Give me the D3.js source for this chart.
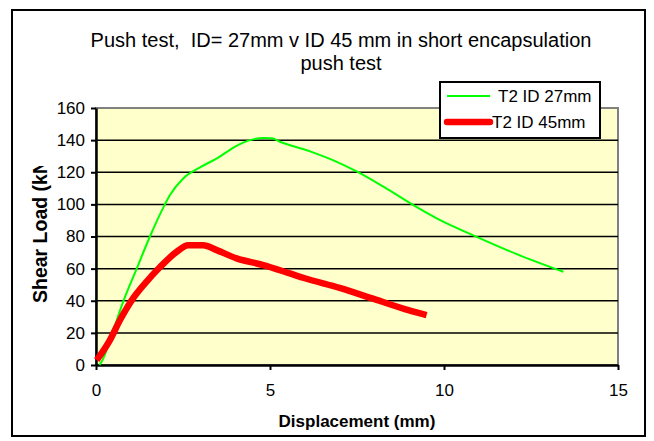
<!DOCTYPE html>
<html>
<head>
<meta charset="utf-8">
<script src="https://cdn.jsdelivr.net/npm/d3@7"></script>
<style>
  body { margin: 0; background: #fff; }
  svg { display: block; font-family: "Liberation Sans", Arial, sans-serif; }
</style>
</head>
<body>
<div id="chart"></div>
<script>
// T2 ID 27mm (green)
const disp27 = [0.1, 0.16, 0.55, 0.74, 1.17, 1.55, 1.98, 2.13, 2.5, 2.99, 3.5, 4.0, 4.43, 4.8, 5.05, 5.29, 6.15, 6.92, 7.49, 8.26, 9.12, 9.79, 10.94, 12.09, 13.43]
const load27 = [0, 2, 25, 37, 60, 80, 100, 106, 116, 123, 129, 136, 140, 141.4, 141.2, 139, 133, 126.5, 120.5, 111, 99.5, 91.3, 79.8, 69, 58]

// T2 ID 45mm (red)
const disp45 = [0.02, 0.4, 0.69, 1.03, 1.41, 1.84, 2.32, 2.65, 3.08, 3.47, 4.04, 4.81, 5.57, 6.0, 7.0, 8.0, 9.0, 9.5]
const load45 = [3, 15.5, 28, 40.4, 50.8, 61, 70.5, 74.5, 74.5, 71.5, 66.4, 62.2, 57, 54, 48, 41, 34, 31]

const seriesNames = ['T2 ID 27mm', 'T2 ID 45mm']
const xTicks = [0, 5, 10, 15]
const yTicks = [0, 20, 40, 60, 80, 100, 120, 140, 160]

const W = 654, H = 441
const plot = { left: 96, right: 618, top: 108, bottom: 365 }

const svg = d3.select('#chart').append('svg')
  .attr('width', W).attr('height', H)

// outer frame
svg.append('rect')
  .attr('x', 12).attr('y', 10).attr('width', 633).attr('height', 426)
  .attr('fill', '#fff').attr('stroke', '#000').attr('stroke-width', 2)

const x = d3.scaleLinear().domain([0, 15]).range([plot.left, plot.right])
const y = d3.scaleLinear().domain([0, 160]).range([plot.bottom, plot.top])

// plot area
svg.append('rect')
  .attr('x', plot.left).attr('y', plot.top)
  .attr('width', plot.right - plot.left).attr('height', plot.bottom - plot.top)
  .attr('fill', '#FFFFCC').attr('stroke', '#808080').attr('stroke-width', 2)

// gridlines
svg.append('g').selectAll('line')
  .data(yTicks.filter(d => d > 0 && d < 160)).enter()
  .append('line')
  .attr('x1', plot.left).attr('x2', plot.right)
  .attr('y1', d => y(d)).attr('y2', d => y(d))
  .attr('stroke', '#000').attr('stroke-width', 1.5)

// axes
const xAxis = d3.axisBottom(x).tickValues(xTicks).tickSize(5).tickSizeOuter(0).tickPadding(14)
const gx = svg.append('g')
  .attr('transform', 'translate(0,' + plot.bottom + ')')
  .call(xAxis)
gx.select('.domain').attr('stroke-width', 2.5)
gx.selectAll('.tick line').attr('stroke-width', 2)
gx.selectAll('text').attr('font-size', 17).attr('fill', '#000')

const yAxis = d3.axisLeft(y).tickValues(yTicks).tickSize(5).tickSizeOuter(0).tickPadding(6)
const gy = svg.append('g')
  .attr('transform', 'translate(' + plot.left + ',0)')
  .call(yAxis)
gy.select('.domain').attr('stroke-width', 2.5)
gy.selectAll('.tick line').attr('stroke-width', 2)
gy.selectAll('text').attr('font-size', 17).attr('fill', '#000')
gx.attr('font-family', null)
gy.attr('font-family', null)

// series
const line = d3.line().x(d => x(d[0])).y(d => y(d[1])).curve(d3.curveMonotoneX)
const s27 = disp27.map((d, i) => [d, load27[i]])
const s45 = disp45.map((d, i) => [d, load45[i]])

svg.append('path').datum(s27)
  .attr('d', line)
  .attr('fill', 'none').attr('stroke', '#00FF00').attr('stroke-width', 2)

svg.append('path').datum(s45)
  .attr('d', line)
  .attr('fill', 'none').attr('stroke', '#FF0000').attr('stroke-width', 6.5)
  .attr('stroke-linejoin', 'round')

// title
const title = svg.append('text')
  .attr('text-anchor', 'middle').attr('font-size', 20).attr('fill', '#000')
title.append('tspan').attr('x', 341).attr('y', 47)
  .text('Push test,\u00a0\u00a0ID= 27mm v ID 45 mm in short encapsulation')
title.append('tspan').attr('x', 341).attr('y', 70).text('push test')

// axis titles
svg.append('text')
  .attr('x', (plot.left + plot.right) / 2).attr('y', 427)
  .attr('text-anchor', 'middle').attr('font-size', 17).attr('font-weight', 'bold')
  .text('Displacement (mm)')

// y title is cut off at the top in the original
svg.append('clipPath').attr('id', 'yclip')
  .append('rect').attr('x', 0).attr('y', 166).attr('width', 80).attr('height', 200)
svg.append('g').attr('clip-path', 'url(#yclip)')
  .append('text')
  .attr('transform', 'translate(47,303) rotate(-90)')
  .attr('text-anchor', 'start').attr('font-size', 19.5).attr('font-weight', 'bold')
  .text('Shear Load (kN)')

// legend
const legend = svg.append('g').attr('transform', 'translate(440,82)')
legend.append('rect')
  .attr('width', 160).attr('height', 56)
  .attr('fill', '#fff').attr('stroke', '#000').attr('stroke-width', 2)
const legendColors = ['#00FF00', '#FF0000']
const legendWidths = [2, 6.5]
const legendTextX = [58, 52]
seriesNames.forEach((name, i) => {
  legend.append('line')
    .attr('x1', 7).attr('x2', 50)
    .attr('y1', 14 + i * 26).attr('y2', 14 + i * 26)
    .attr('stroke', legendColors[i]).attr('stroke-width', legendWidths[i])
    .attr('stroke-linecap', i === 1 ? 'round' : 'butt')
  legend.append('text')
    .attr('x', legendTextX[i]).attr('y', 20 + i * 26)
    .attr('font-size', 17)
    .text(name)
})
</script>
</body>
</html>
